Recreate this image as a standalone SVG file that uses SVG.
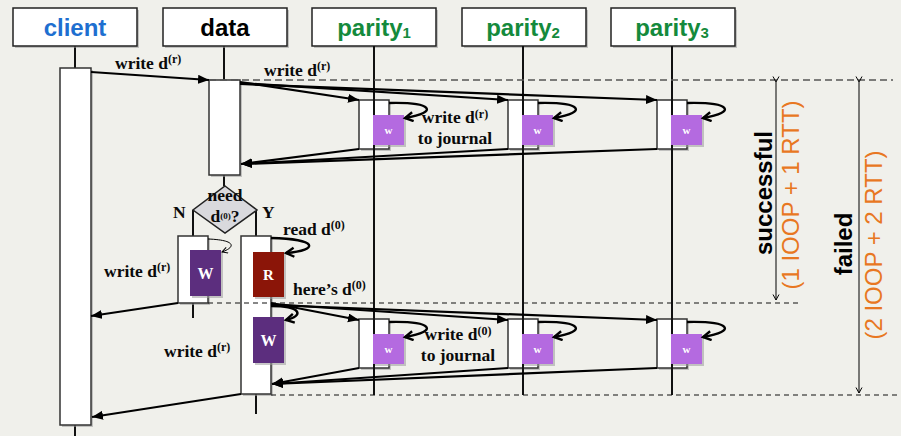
<svg xmlns="http://www.w3.org/2000/svg" width="901" height="436" viewBox="0 0 901 436">
<style>
.hdr{fill:#fff;stroke:#222;stroke-width:1.5}
.sh{fill:#9a9a9a;opacity:.55}
.act{fill:#fff;stroke:#333;stroke-width:1.5}
.life{stroke:#111;stroke-width:2;fill:none}
.con{stroke:#000;stroke-width:2.2;fill:none}
.loop{stroke:#000;stroke-width:2.4;fill:none}
.dash1{stroke:#555;stroke-width:1.6;stroke-dasharray:7 4;fill:none}
.dash2{stroke:#111;stroke-width:1.2;stroke-dasharray:5 4;fill:none}
.meas{stroke:#000;stroke-width:1;fill:none}
.ht{font-family:"Liberation Sans",Arial,sans-serif;font-weight:bold;font-size:24px;text-anchor:middle}
.lb{font-family:"Liberation Serif","Times New Roman",serif;font-weight:bold;font-size:17.5px;fill:#0a0a0a}
.sup{font-size:12px}
.wl{fill:#b46ae0}
.wd{fill:#5c2e7e}
.rd{fill:#8b1508}
.wt{font-family:"Liberation Serif","Times New Roman",serif;font-weight:bold;fill:#fff;text-anchor:middle}
.rot{font-family:"Liberation Sans",Arial,sans-serif;font-size:24px;text-anchor:middle}
</style>
<defs>
<marker id="ah" markerUnits="userSpaceOnUse" markerWidth="12" markerHeight="10" refX="11" refY="4.5" orient="auto">
<path d="M0,0 L11,4.5 L0,9 z" fill="#000"/>
</marker>
<marker id="oh" markerUnits="userSpaceOnUse" markerWidth="12" markerHeight="12" refX="9" refY="5.5" orient="auto">
<path d="M1,1 L9,5.5 L1,10" fill="none" stroke="#000" stroke-width="2.4"/>
</marker>
<marker id="th" markerUnits="userSpaceOnUse" markerWidth="8" markerHeight="8" refX="6" refY="3.5" orient="auto">
<path d="M0.5,0.5 L6,3.5 L0.5,6.5" fill="none" stroke="#000" stroke-width="1"/>
</marker>
</defs>
<rect x="0" y="0" width="901" height="436" fill="#f0f0eb"/>

<!-- lifelines -->
<g id="lifelines">
<line class="life" x1="75" y1="46" x2="75" y2="436"/>
<line class="life" x1="224" y1="46" x2="224" y2="80"/>
<line class="life" x1="224" y1="175" x2="224" y2="186"/>
<line class="life" x1="193" y1="210" x2="193" y2="236"/>
<line class="life" x1="193" y1="303" x2="193" y2="318"/>
<line class="life" x1="256" y1="210" x2="256" y2="236"/>
<line class="life" x1="256" y1="394" x2="256" y2="414"/>
</g>

<!-- header nodes -->
<g id="client">
<rect class="sh" x="15" y="10" width="124" height="38"/>
<rect class="hdr" x="13" y="8" width="124" height="38"/>
<text class="ht" x="75" y="36" fill="#1e6fd0">client</text>
<rect class="sh" x="62" y="70" width="31" height="357"/>
<rect class="act" x="60" y="68" width="31" height="357"/>
</g>
<g id="data">
<rect class="sh" x="165" y="10" width="124" height="38"/>
<rect class="hdr" x="163" y="8" width="124" height="38"/>
<text class="ht" x="225" y="36" fill="#000">data</text>
<rect class="sh" x="211" y="82" width="31" height="95"/>
<rect class="act" x="209" y="80" width="31" height="95"/>
</g>
<g id="parity1">
<rect class="sh" x="314" y="10" width="124" height="38"/>
<rect class="hdr" x="312" y="8" width="124" height="38"/>
<text class="ht" x="374" y="36" fill="#148a3c">parity<tspan font-size="15" dy="2">1</tspan></text>
</g>
<g id="parity2">
<rect class="sh" x="464" y="10" width="124" height="38"/>
<rect class="hdr" x="462" y="8" width="124" height="38"/>
<text class="ht" x="523" y="36" fill="#148a3c">parity<tspan font-size="15" dy="2">2</tspan></text>
</g>
<g id="parity3">
<rect class="sh" x="613" y="10" width="124" height="38"/>
<rect class="hdr" x="611" y="8" width="124" height="38"/>
<text class="ht" x="672" y="36" fill="#148a3c">parity<tspan font-size="15" dy="2">3</tspan></text>
</g>

<!-- decision -->
<g id="decision">
<polygon points="225,186 257,210 225,233 193,210" fill="#d9d9dd" stroke="#222" stroke-width="1.5"/>
<text class="lb" font-size="13" text-anchor="middle"><tspan x="225" y="201">need</tspan><tspan x="225" y="222">d</tspan><tspan font-size="9" dy="-3.5">(0)</tspan><tspan dy="3.5">?</tspan></text>
<text class="lb" x="173" y="218" font-size="18" fill="#1a1a30">N</text>
<text class="lb" x="262" y="218" font-size="18" fill="#1a1a30">Y</text>
</g>

<g id="data-n">
<rect class="sh" x="180" y="238" width="30" height="67"/>
<rect class="act" x="178" y="236" width="30" height="67"/>
<rect class="sh" x="192" y="252" width="31" height="46"/>
<rect class="wd" x="190" y="250" width="31" height="46"/>
<text class="wt" x="205.5" y="279" font-size="16">W</text>
</g>
<g id="data-y">
<rect class="sh" x="243" y="238" width="30" height="158"/>
<rect class="act" x="241" y="236" width="30" height="158"/>
<rect class="sh" x="255" y="254" width="31" height="45"/>
<rect class="rd" x="253" y="252" width="31" height="45"/>
<text class="wt" x="268.5" y="280" font-size="15">R</text>
<rect class="sh" x="255" y="319" width="31" height="46"/>
<rect class="wd" x="253" y="317" width="31" height="46"/>
<text class="wt" x="268.5" y="346" font-size="16">W</text>
</g>

<!-- parity activations -->
<g id="p1-acts">
<rect class="sh" x="361" y="102" width="30" height="49"/>
<rect class="act" x="359" y="100" width="30" height="49"/>
<rect class="sh" x="361" y="321" width="30" height="49"/>
<rect class="act" x="359" y="319" width="30" height="49"/>
</g>
<g id="p2-acts">
<rect class="sh" x="510" y="102" width="30" height="49"/>
<rect class="act" x="508" y="100" width="30" height="49"/>
<rect class="sh" x="510" y="321" width="30" height="49"/>
<rect class="act" x="508" y="319" width="30" height="49"/>
</g>
<g id="p3-acts">
<rect class="sh" x="659" y="102" width="30" height="49"/>
<rect class="act" x="657" y="100" width="30" height="49"/>
<rect class="sh" x="659" y="321" width="30" height="49"/>
<rect class="act" x="657" y="319" width="30" height="49"/>
</g>
<g id="parity-lifelines">
<line class="life" x1="374" y1="46" x2="374" y2="395"/>
<line class="life" x1="523" y1="46" x2="523" y2="395"/>
<line class="life" x1="672" y1="46" x2="672" y2="395"/>
</g>
<g id="journal-writes">
<rect class="sh" x="375" y="117" width="31" height="30"/><rect class="wl" x="373" y="115" width="31" height="30"/><text class="wt" x="388.5" y="134" font-size="11">w</text>
<rect class="sh" x="524" y="117" width="31" height="30"/><rect class="wl" x="522" y="115" width="31" height="30"/><text class="wt" x="537.5" y="134" font-size="11">w</text>
<rect class="sh" x="673" y="117" width="31" height="30"/><rect class="wl" x="671" y="115" width="31" height="30"/><text class="wt" x="686.5" y="134" font-size="11">w</text>
<rect class="sh" x="375" y="336" width="31" height="30"/><rect class="wl" x="373" y="334" width="31" height="30"/><text class="wt" x="388.5" y="353" font-size="11">w</text>
<rect class="sh" x="524" y="336" width="31" height="30"/><rect class="wl" x="522" y="334" width="31" height="30"/><text class="wt" x="537.5" y="353" font-size="11">w</text>
<rect class="sh" x="673" y="336" width="31" height="30"/><rect class="wl" x="671" y="334" width="31" height="30"/><text class="wt" x="686.5" y="353" font-size="11">w</text>
</g>

<!-- dashed guides and measures -->
<g id="guides">
<line class="dash1" x1="209" y1="80" x2="893" y2="80"/>
<line class="dash2" x1="208" y1="303" x2="800" y2="303"/>
<line class="dash2" x1="271" y1="395" x2="900" y2="395"/>
<line class="meas" x1="776" y1="82" x2="776" y2="300" marker-start="url(#th)" marker-end="url(#th)"/>
<line class="meas" x1="859" y1="82" x2="859" y2="393" marker-start="url(#th)" marker-end="url(#th)"/>
</g>

<!-- connectors -->
<g id="connectors">
<path class="con" d="M91,72 L209,80" marker-end="url(#ah)"/>
<path class="con" d="M240,82 L359,100" marker-end="url(#ah)"/>
<path class="con" d="M240,83 L508,100" marker-end="url(#ah)"/>
<path class="con" d="M240,84 L657,100" marker-end="url(#ah)"/>
<path class="con" d="M359,149 L241,164" marker-end="url(#ah)"/>
<path class="con" d="M508,149 L241,164" marker-end="url(#ah)"/>
<path class="con" d="M657,149 L241,164" marker-end="url(#ah)"/>
<path class="loop" d="M389,103 C432,102 440,112 405,118" marker-end="url(#oh)"/>
<path class="loop" d="M538,103 C581,102 589,112 554,118" marker-end="url(#oh)"/>
<path class="loop" d="M687,103 C730,102 738,112 703,118" marker-end="url(#oh)"/>
<path class="meas" d="M208,239 C236,240 236,247 222,252" marker-end="url(#th)"/>
<path class="loop" d="M271,238 C318,239 320,250 286,253" marker-end="url(#oh)"/>
<path class="con" d="M178,303 L91,316" marker-end="url(#ah)"/>
<path class="con" d="M271,303 L359,320" marker-end="url(#ah)"/>
<path class="con" d="M271,304 L508,320" marker-end="url(#ah)"/>
<path class="con" d="M271,305 L657,320" marker-end="url(#ah)"/>
<path class="loop" d="M271,306 C302,306 304,316 286,320" marker-end="url(#oh)"/>
<path class="loop" d="M389,322 C432,321 440,331 405,337" marker-end="url(#oh)"/>
<path class="loop" d="M538,322 C581,321 589,331 554,337" marker-end="url(#oh)"/>
<path class="loop" d="M687,322 C730,321 738,331 703,337" marker-end="url(#oh)"/>
<path class="con" d="M359,368 L272,384" marker-end="url(#ah)"/>
<path class="con" d="M508,368 L272,384" marker-end="url(#ah)"/>
<path class="con" d="M657,368 L272,384" marker-end="url(#ah)"/>
<path class="con" d="M241,394 L92,417" marker-end="url(#ah)"/>
</g>

<!-- labels -->
<g id="labels">
<text class="lb" x="115" y="69">write d<tspan class="sup" dy="-6">(r)</tspan></text>
<text class="lb" x="264" y="76">write d<tspan class="sup" dy="-6">(r)</tspan></text>
<text class="lb" text-anchor="middle"><tspan x="455" y="123">write d</tspan><tspan class="sup" dy="-5">(r)</tspan><tspan x="455" y="144">to journal</tspan></text>
<text class="lb" x="283" y="235">read d<tspan class="sup" dy="-6">(0)</tspan></text>
<text class="lb" x="293" y="295">here’s d<tspan class="sup" dy="-6">(0)</tspan></text>
<text class="lb" x="104" y="277">write d<tspan class="sup" dy="-6">(r)</tspan></text>
<text class="lb" text-anchor="middle"><tspan x="458" y="340">write d</tspan><tspan class="sup" dy="-5">(0)</tspan><tspan x="458" y="361">to journal</tspan></text>
<text class="lb" x="164" y="357">write d<tspan class="sup" dy="-6">(r)</tspan></text>
<text class="rot" font-weight="bold" fill="#000" transform="translate(772,193) rotate(-90)">successful</text>
<text class="rot" fill="#e87722" transform="translate(799,195) rotate(-90)">(1 IOOP + 1 RTT)</text>
<text class="rot" font-weight="bold" fill="#000" transform="translate(852,244) rotate(-90)">failed</text>
<text class="rot" fill="#e87722" transform="translate(882,245) rotate(-90)">(2 IOOP + 2 RTT)</text>
</g>
</svg>
